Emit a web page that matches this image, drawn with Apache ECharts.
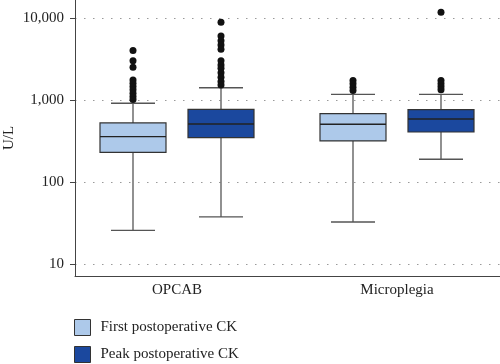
<!DOCTYPE html>
<html><head><meta charset="utf-8">
<script src="https://cdn.jsdelivr.net/npm/echarts@6/dist/echarts.min.js"></script>
<style>html,body{margin:0;padding:0;background:#fff}#c{width:500px;height:364px}</style>
</head><body><div id="c"></div>
<script>
// ---- data ----
const groups = ['OPCAB', 'Microplegia'];
const seriesNames = ['First postoperative CK', 'Peak postoperative CK'];
// [min, Q1, median, Q3, max] per group
const firstBox = [[26, 233, 362, 532, 925], [33, 321, 513, 690, 1190]];
const peakBox  = [[38, 352, 517, 781, 1430], [192, 413, 595, 772, 1190]];
const firstOutliers = [
  [4080, 3060, 2540, 1780, 1620, 1480, 1350, 1230, 1120, 1030],
  [1750, 1600, 1450, 1320]
];
const peakOutliers = [
  [8990, 6120, 5360, 4750, 4210, 3060, 2710, 2470, 2180, 1920, 1700, 1545],
  [11900, 1750, 1600, 1470, 1350]
];
const yTicks = [10, 100, 1000, 10000];

// ---- layout helpers ----
const dodge = 0.2;           // horizontal offset of each box from its group centre (axis units)
const colors = ['#adc9ea', '#1b489e'];
const groupPos = groups.map((g, i) => i + 1);

function boxData(boxes, off) { return boxes.map((b, i) => [groupPos[i] + off].concat(b)); }
function outData(outs, off) {
  const res = [];
  outs.forEach((arr, i) => arr.forEach(v => res.push([groupPos[i] + off, v])));
  return res;
}
function renderBox(params, api) {
  const color = api.visual('color');
  const x = api.value(0);
  const pMin = api.coord([x, api.value(1)]);
  const pQ1 = api.coord([x, api.value(2)]);
  const pMd = api.coord([x, api.value(3)]);
  const pQ3 = api.coord([x, api.value(4)]);
  const pMax = api.coord([x, api.value(5)]);
  const l = api.coord([x - 0.15, api.value(3)])[0], r = api.coord([x + 0.15, api.value(3)])[0];
  const cl = api.coord([x - 0.1, api.value(3)])[0], cr = api.coord([x + 0.1, api.value(3)])[0];
  const w = {stroke: '#555', lineWidth: 1.3};
  return {type: 'group', children: [
    {type: 'line', shape: {x1: pMin[0], y1: pMin[1], x2: pQ1[0], y2: pQ1[1]}, style: w},
    {type: 'line', shape: {x1: pQ3[0], y1: pQ3[1], x2: pMax[0], y2: pMax[1]}, style: w},
    {type: 'line', shape: {x1: cl, y1: pMin[1], x2: cr, y2: pMin[1]}, style: w},
    {type: 'line', shape: {x1: cl, y1: pMax[1], x2: cr, y2: pMax[1]}, style: w},
    {type: 'rect', shape: {x: l, y: pQ3[1], width: r - l, height: pQ1[1] - pQ3[1]},
      style: {fill: color, stroke: '#333', lineWidth: 1.2}},
    {type: 'line', shape: {x1: l, y1: pMd[1], x2: r, y2: pMd[1]}, style: {stroke: '#222', lineWidth: 1.3}}
  ]};
}

const font = 'Liberation Serif';
const chart = echarts.init(document.getElementById('c'), null, {renderer: 'canvas'});
chart.setOption({
  animation: false,
  backgroundColor: '#fff',
  textStyle: {fontFamily: font},
  grid: {left: 75, right: 0, top: 0, bottom: 88, containLabel: false, outerBoundsMode: 'none'},
  legend: {
    data: seriesNames, orient: 'vertical', left: 74, top: 319, padding: 0,
    itemWidth: 16, itemHeight: 16, itemGap: 10, icon: 'rect',
    itemStyle: {borderColor: '#333', borderWidth: 1},
    textStyle: {fontFamily: font, fontSize: 15, color: '#222', padding: [0, 0, 0, 5]}
  },
  xAxis: {
    type: 'value', min: 0.53636, max: 2.46818,
    axisLine: {onZero: false, lineStyle: {color: '#444', width: 1}},
    axisTick: {show: false},
    splitLine: {show: false},
    axisLabel: {
      customValues: groupPos, margin: 7,
      fontFamily: font, fontSize: 15, color: '#222',
      formatter: v => groups[Math.round(v) - 1] || ''
    }
  },
  yAxis: {
    type: 'log', logBase: 10, min: 7.24, max: 16810,
    name: 'U/L', nameLocation: 'middle', nameGap: 58, nameMoveOverlap: false,
    nameTextStyle: {fontFamily: font, fontSize: 15, color: '#222'},
    axisLine: {show: true, onZero: false, lineStyle: {color: '#444', width: 1}},
    axisTick: {show: true, length: 5, customValues: yTicks, lineStyle: {color: '#444'}},
    axisLabel: {
      customValues: yTicks, margin: 11,
      fontFamily: font, fontSize: 15, color: '#222',
      formatter: v => Math.round(v).toLocaleString('en-US')
    },
    splitLine: {show: true, lineStyle: {color: '#9a9a9a', type: [1.5, 7.5], width: 1.2}}
  },
  series: [
    {name: seriesNames[0], type: 'custom', renderItem: renderBox, itemStyle: {color: colors[0]},
      encode: {x: 0, y: [1, 2, 3, 4, 5]}, data: boxData(firstBox, -dodge), z: 2},
    {name: seriesNames[1], type: 'custom', renderItem: renderBox, itemStyle: {color: colors[1]},
      encode: {x: 0, y: [1, 2, 3, 4, 5]}, data: boxData(peakBox, dodge), z: 2},
    {name: 'first-outliers', type: 'scatter', symbolSize: 7, itemStyle: {color: '#111', opacity: 1},
      data: outData(firstOutliers, -dodge), z: 3},
    {name: 'peak-outliers', type: 'scatter', symbolSize: 7, itemStyle: {color: '#111', opacity: 1},
      data: outData(peakOutliers, dodge), z: 3}
  ]
});
</script></body></html>
